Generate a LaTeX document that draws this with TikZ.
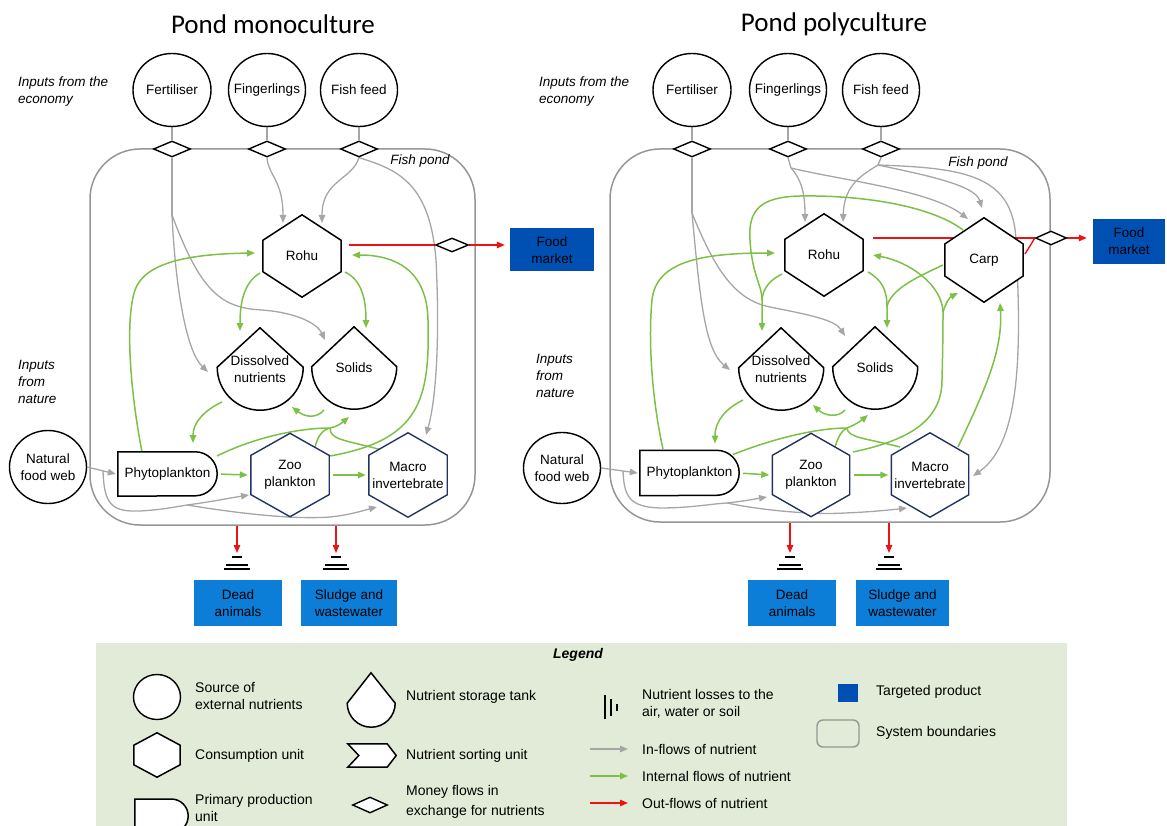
\documentclass[tikz,border=0pt]{standalone}
\usepackage{fontspec}
\setmainfont{Liberation Sans}
\newfontfamily\titlefont{Carlito}
\usetikzlibrary{shapes.geometric,arrows.meta,calc}
\definecolor{grayc}{RGB}{166,166,166}
\definecolor{boundc}{RGB}{150,150,150}
\definecolor{greenc}{RGB}{125,192,70}
\definecolor{redc}{RGB}{235,20,20}
\definecolor{navyc}{RGB}{35,50,100}
\definecolor{darkblue}{RGB}{0,80,180}
\definecolor{midblue}{RGB}{12,126,216}
\definecolor{lgdgreen}{RGB}{226,235,215}
\pgfdeclarelayer{bg}\pgfdeclarelayer{mid}\pgfsetlayers{bg,mid,main}
\newcommand\lbl{\fontsize{13.5}{17}\selectfont}
\newcommand\lgd{\fontsize{14}{17}\selectfont}
\tikzset{
 gline/.style={draw=grayc,line width=1.3pt},
 garr/.style={gline,-{Triangle[width=6.5pt,length=8pt]}},
 grn/.style={draw=greenc,line width=1.5pt},
 grnarr/.style={grn,-{Triangle[width=6.5pt,length=8pt]}},
 redl/.style={draw=redc,line width=1.4pt},
 redarr/.style={redl,-{Triangle[width=6.5pt,length=8pt]}},
 bound/.style={draw=boundc,line width=1.5pt,rounded corners=50pt,inner sep=0pt},
 src/.style={ellipse,draw,line width=1.4pt,fill=white,inner sep=0pt},
 money/.style={diamond,draw,line width=1.4pt,fill=white,inner sep=0pt,minimum width=37pt,minimum height=16pt},
 unit/.style={rectangle,inner sep=0pt,align=center,font=\lbl},
 blk/.style={draw=black,line width=1.5pt,fill=white},
 blu/.style={draw=navyc,line width=1.4pt,fill=white},
 prod/.style={rectangle,inner sep=0pt,align=center,font=\lbl,minimum height=46pt},
 it/.style={font=\lbl\itshape,align=left,inner sep=0pt},
 lt/.style={font=\lgd,align=left,inner sep=0pt,anchor=west},
 gnd/.style={line width=1.8pt,draw=black},
 ttl/.style={font=\titlefont\fontsize{27}{30}\selectfont,inner sep=0pt},
}
\newcommand\hexout[4]{\path[#4] (#1.north) -- ($(#1.north east)!#2!(#1.south east)$) -- ($(#1.north east)!#3!(#1.south east)$) -- (#1.south) -- ($(#1.north west)!#3!(#1.south west)$) -- ($(#1.north west)!#2!(#1.south west)$) -- cycle;}
\newcommand\tankout[3]{\path[#3] ($(#1.south east)+(0,-#2)$) arc[start angle=0,end angle=180,radius=#2] -- (#1.north) -- cycle;}
\newcommand\dout[3]{\path[#3] (#1.north west) -- ($(#1.north east)+(-#2,0)$) arc[start angle=-90,end angle=90,radius=#2] -- (#1.south west) -- cycle;}
\newcommand\gndat[1]{\draw[gnd] ($(#1)+(-5,0)$) -- ($(#1)+(5,0)$) ($(#1)+(-11,8)$) -- ($(#1)+(11,8)$) ($(#1)+(-13,12)$) -- ($(#1)+(13,12)$);}
\begin{document}
\begin{tikzpicture}[x=1pt,y=-1pt]
\useasboundingbox (0,0) rectangle (1167,826);
% ---------- titles and side labels
\node[ttl] (titleL) at (273,24) {Pond monoculture};
\node[ttl] (titleR) at (834,24) {Pond polyculture};
\node[it,anchor=west] (ecoL) at (18,92) {Inputs from the\\economy};
\node[it,anchor=west] (ecoR) at (539,92) {Inputs from the\\economy};
\node[it,anchor=west] (natL) at (18,382) {Inputs\\from\\nature};
\node[it,anchor=west] (natR) at (536,376) {Inputs\\from\\nature};
\node[it] (fpL) at (420,161) {Fish pond};
\node[it] (fpR) at (978,163) {Fish pond};
% ---------- left nodes
\node[src,minimum width=78pt,minimum height=73pt,label={[font=\lbl]center:Fertiliser}] (fertL) at (172,90) {};
\node[src,minimum width=77pt,minimum height=73pt,label={[font=\lbl]center:Fingerlings}] (fingL) at (267,90) {};
\node[src,minimum width=77pt,minimum height=73pt,label={[font=\lbl]center:Fish feed}] (feedL) at (359,90) {};
\node[money] (dmFertL) at (172,149) {};
\node[money] (dmFingL) at (267,149) {};
\node[money] (dmFeedL) at (359,149) {};
\node[unit,minimum width=78pt,minimum height=82pt] (rohuL) at (302,256) {Rohu};
\node[unit,minimum width=86pt,minimum height=82pt] (dissL) at (260,369) {Dissolved\\nutrients};
\node[unit,minimum width=85pt,minimum height=82pt] (solL) at (354,368) {Solids};
\node[unit,minimum width=99pt,minimum height=44pt] (phyL) at (167.5,474) {Phytoplankton};
\node[unit,minimum width=78pt,minimum height=83pt] (zooL) at (290,475) {Zoo\\plankton};
\node[unit,minimum width=78pt,minimum height=84pt] (macL) at (408,475) {Macro\\invertebrate};
\node[src,minimum width=77pt,minimum height=73pt,label={[font=\lbl,align=center]center:Natural\\food web}] (nfwL) at (48,467) {};
\node[money,minimum width=33pt,minimum height=14pt] (dmOutL) at (452,245) {};
\node[prod,fill=darkblue,minimum width=84pt,minimum height=43pt] (marketL) at (552,250) {Food\\market};
\node[prod,fill=midblue,minimum width=88pt] (deadL) at (238,603) {Dead\\animals};
\node[prod,fill=midblue,minimum width=96pt] (sludgeL) at (349,603) {Sludge and\\wastewater};
% ---------- right nodes
\node[src,minimum width=78pt,minimum height=73pt,label={[font=\lbl]center:Fertiliser}] (fertR) at (692,90) {};
\node[src,minimum width=77pt,minimum height=73pt,label={[font=\lbl]center:Fingerlings}] (fingR) at (788,90) {};
\node[src,minimum width=77pt,minimum height=73pt,label={[font=\lbl]center:Fish feed}] (feedR) at (881,90) {};
\node[money] (dmFertR) at (692,149) {};
\node[money] (dmFingR) at (788,149) {};
\node[money] (dmFeedR) at (881,149) {};
\node[unit,minimum width=78pt,minimum height=82pt] (rohuR) at (824,255) {Rohu};
\node[unit,minimum width=78pt,minimum height=84pt] (carpR) at (984,260) {Carp};
\node[unit,minimum width=85pt,minimum height=82pt] (dissR) at (781,369) {Dissolved\\nutrients};
\node[unit,minimum width=85pt,minimum height=82pt] (solR) at (875,368) {Solids};
\node[unit,minimum width=99pt,minimum height=45pt] (phyR) at (689.5,473) {Phytoplankton};
\node[unit,minimum width=77pt,minimum height=83pt] (zooR) at (811,475) {Zoo\\plankton};
\node[unit,minimum width=77pt,minimum height=84pt] (macR) at (930,475) {Macro\\invertebrate};
\node[src,minimum width=77pt,minimum height=71pt,label={[font=\lbl,align=center]center:Natural\\food web}] (nfwR) at (562,468) {};
\node[money,minimum width=31pt,minimum height=14pt] (dmOutR) at (1051,238) {};
\node[prod,fill=darkblue,minimum width=72pt,minimum height=45pt] (marketR) at (1129,241.5) {Food\\market};
\node[prod,fill=midblue,minimum width=88pt] (deadR) at (792,603) {Dead\\animals};
\node[prod,fill=midblue,minimum width=93pt] (sludgeR) at (902.5,603) {Sludge and\\wastewater};
% ---------- outlines
\begin{pgfonlayer}{mid}
\hexout{rohuL}{0.31}{0.69}{blk}
\tankout{dissL}{43}{blk}
\tankout{solL}{42.5}{blk}
\dout{phyL}{22}{blk}
\hexout{zooL}{0.265}{0.735}{blu}
\hexout{macL}{0.265}{0.735}{blu}
\hexout{rohuR}{0.31}{0.69}{blk}
\hexout{carpR}{0.31}{0.69}{blk}
\tankout{dissR}{42.5}{blk}
\tankout{solR}{42.5}{blk}
\dout{phyR}{22.5}{blk}
\hexout{zooR}{0.265}{0.735}{blu}
\hexout{macR}{0.265}{0.735}{blu}
\end{pgfonlayer}
% ---------- connectors
\begin{pgfonlayer}{bg}
\node[fill=lgdgreen,minimum width=971pt,minimum height=190pt,inner sep=0pt,anchor=north west] (lgdbox) at (96,643) {};
\node[bound,minimum width=385pt,minimum height=376pt] (pondL) at (282.5,337) {};
\node[bound,minimum width=440pt,minimum height=373pt] (pondR) at (830,335.5) {};
% left grey
\draw[gline] (fertL.south) -- (dmFertL.north);
\draw[gline] (fingL.south) -- (dmFingL.north);
\draw[gline] (feedL.south) -- (dmFeedL.north);
\coordinate (jFertL) at (172,215);
\draw[gline] (dmFertL.south) -- (jFertL);
\draw[garr] (jFertL) .. controls (175,280) and (185,350) .. ($(dissL)+(-52,3)$);
\draw[garr] (jFertL) .. controls (200,290) and (220,308) .. (262,310) .. controls (300,313) and (318,325) .. ($(solL)+(-29,-28)$);
\draw[garr] (dmFingL.south) .. controls (268,175) and (283,180) .. ($(rohuL)+(-19,-33)$);
\draw[garr] (dmFeedL.south) .. controls (352,180) and (322,180) .. ($(rohuL)+(20,-33)$);
\draw[garr] (dmFeedL.south) .. controls (400,170) and (430,185) .. (436,260) .. controls (440,340) and (436,400) .. ($(macL)+(18,-40)$);
\coordinate (jNfwL) at (103,470.5);
\draw[garr] (nfwL.east) -- ($(phyL.west)+(-2,0)$);
\coordinate (jBrL) at (187,505);
\draw[garr] (jNfwL) .. controls (104,505) and (112,512) .. (140,511) .. controls (160,510) and (175,507) .. (jBrL) .. controls (210,502) and (230,498) .. ($(zooL)+(-41,20)$);
\draw[garr] (jBrL) .. controls (230,512) and (290,520) .. (330,517) .. controls (350,515) and (365,510) .. ($(macL)+(-31,32)$);
% left green
\draw[grnarr] ($(phyL)+(-25.5,-22)$) .. controls (130,390) and (125,320) .. (135,290) .. controls (145,262) and (190,254) .. ($(rohuL)+(-47,-3)$);
\draw[grnarr] ($(rohuL)+(-42,17)$) .. controls (245,282) and (240,300) .. ($(dissL)+(-20,-38)$);
\draw[grnarr] ($(rohuL)+(43,16)$) .. controls (362,280) and (366,300) .. ($(solL)+(12,-40)$);
\draw[grnarr] ($(zooL)+(40,-19)$) .. controls (420,440) and (430,400) .. (428,320) .. controls (427,270) and (395,255) .. ($(rohuL)+(50,-1)$);
\draw[grnarr] ($(dissL)+(-38,33)$) .. controls (205,410) and (193,422) .. ($(phyL)+(25.5,-31)$);
\draw[grnarr] ($(solL)+(-30,42)$) .. controls (316,419) and (305,417) .. ($(dissL)+(32,38)$);
\coordinate (jSolL) at (330,428);
\draw[grnarr] ($(phyL)+(49.5,-18)$) .. controls (255,437) and (300,428) .. (jSolL) .. controls (337,427) and (343,422) .. ($(solL)+(-5,49)$);
\draw[grn] ($(zooL)+(25,-28)$) .. controls (318,436) and (322,430) .. (jSolL);
\draw[grn] ($(macL)+(-26,-25)$) .. controls (345,440) and (330,440) .. (jSolL);
\draw[grnarr,shorten <=4pt] (phyL.east) -- ($(zooL.west)+(-3,0)$);
\draw[grnarr,shorten <=4pt] (zooL.east) -- ($(macL.west)+(-3,0)$);
% left red
\draw[redl] ($(rohuL)+(47,-11)$) -- (dmOutL.west);
\draw[redarr,shorten >=5pt] (dmOutL.east) -- (dmOutL.east -| marketL.west);
\coordinate (gL1) at (237,557);
\coordinate (gL2) at (336,557);
\draw[redarr] (pondL.south -| gL1) -- ($(gL1)+(0,-4)$);
\draw[redarr] (pondL.south -| gL2) -- ($(gL2)+(0,-4)$);
% right grey
\draw[gline] (fertR.south) -- (dmFertR.north);
\draw[gline] (fingR.south) -- (dmFingR.north);
\draw[gline] (feedR.south) -- (dmFeedR.north);
\coordinate (jFertR) at (692,213);
\draw[gline] (dmFertR.south) -- (jFertR);
\draw[garr] (jFertR) .. controls (700,300) and (705,350) .. ($(dissR)+(-51,1)$);
\draw[garr] (jFertR) .. controls (715,270) and (735,300) .. (770,307) .. controls (810,315) and (835,320) .. ($(solR)+(-30,-32)$);
\coordinate (jFingR) at (791,168);
\draw[gline] (dmFingR.south) -- (jFingR);
\draw[garr] (jFingR) .. controls (802,180) and (805,195) .. ($(rohuR)+(-19,-33)$);
\draw[garr] (jFingR) .. controls (840,180) and (930,190) .. ($(carpR)+(-16,-41)$);
\coordinate (jFeedR) at (878,165);
\draw[gline] (dmFeedR.south) -- (jFeedR);
\draw[garr] (jFeedR) .. controls (862,175) and (844,185) .. ($(rohuR)+(19,-33)$);
\draw[garr] (jFeedR) .. controls (925,175) and (975,185) .. ($(carpR)+(-2,-52)$);
\draw[garr] (jFeedR) .. controls (965,168) and (1013,175) .. (1016,240) .. controls (1020,330) and (1025,440) .. ($(macR)+(43,1)$);
\coordinate (jNfwR) at (623,471);
\draw[garr] (nfwR.east) -- ($(phyR.west)+(-2,0)$);
\coordinate (jBrR) at (727,503);
\draw[garr] (jNfwR) .. controls (624,497) and (630,507) .. (660,508) .. controls (690,508) and (710,504) .. (jBrR) .. controls (745,501) and (755,499) .. ($(zooR)+(-44,22)$);
\draw[garr] (jBrR) .. controls (760,510) and (810,515) .. (845,513) .. controls (870,512) and (890,510) .. ($(macR)+(-23,33)$);
% right green
\draw[grnarr] ($(phyR)+(-26.5,-24)$) .. controls (652,400) and (648,340) .. (652,300) .. controls (656,262) and (700,253) .. ($(rohuR)+(-49,-2)$);
\coordinate (jDissR) at (762,300);
\draw[grnarr] ($(carpR)+(-21,-30)$) .. controls (930,205) and (860,195) .. (800,196) .. controls (760,197) and (748,210) .. (750,240) .. controls (752,275) and (762,285) .. (jDissR) -- ($(dissR)+(-19,-38)$);
\draw[grn] ($(rohuR)+(-42,19)$) .. controls (770,280) and (763,288) .. (jDissR);
\coordinate (jSolTR) at (887,307);
\draw[grnarr] ($(rohuR)+(44,17)$) .. controls (882,280) and (887,290) .. (jSolTR) -- ($(solR)+(12,-40)$);
\draw[grn] ($(carpR)+(-41,5)$) .. controls (915,278) and (890,290) .. (jSolTR);
\coordinate (jCarpR) at (943,312);
\draw[grnarr] ($(zooR)+(42,-23)$) .. controls (910,440) and (942,420) .. (942,380) .. controls (943,340) and (943,320) .. (jCarpR) .. controls (942,285) and (910,262) .. ($(rohuR)+(49,0)$);
\draw[grnarr] (jCarpR) .. controls (946,302) and (950,297) .. ($(carpR)+(-26,33)$);
\draw[grnarr] ($(macR)+(28,-28)$) .. controls (985,390) and (1003,350) .. ($(carpR)+(16,43)$);
\draw[grnarr] ($(dissR)+(-38,31)$) .. controls (727,408) and (715,420) .. ($(phyR)+(25.5,-29.5)$);
\draw[grnarr] ($(solR)+(-30,42)$) .. controls (838,418) and (825,416) .. ($(dissR)+(32,36)$);
\coordinate (jSolR) at (847,428);
\draw[grnarr] ($(phyR)+(43.5,-18.5)$) .. controls (777,437) and (820,428) .. (jSolR) .. controls (855,425) and (862,420) .. ($(solR)+(-7,47)$);
\draw[grn] ($(zooR)+(24,-28)$) .. controls (838,437) and (842,430) .. (jSolR);
\draw[grn] ($(macR)+(-30,-28)$) .. controls (865,438) and (848,438) .. (jSolR);
\draw[grnarr,shorten <=4pt] (phyR.east) -- ($(zooR.west)+(-3,0)$);
\draw[grnarr,shorten <=4pt] (zooR.east) -- ($(macR.west)+(-3,0)$);
% right red
\draw[redl] ($(rohuR)+(49,-17)$) -- (dmOutR.west);
\draw[redl] ($(carpR)+(41,-6)$) .. controls (1030,246) and (1033,241) .. (dmOutR.west);
\draw[redarr,shorten >=6pt] (dmOutR.east) -- (dmOutR.east -| marketR.west);
\coordinate (gR1) at (790,557);
\coordinate (gR2) at (889,557);
\draw[redarr] (pondR.south -| gR1) -- ($(gR1)+(0,-4)$);
\draw[redarr] (pondR.south -| gR2) -- ($(gR2)+(0,-4)$);
\end{pgfonlayer}
\gndat{gL1}
\gndat{gL2}
\gndat{gR1}
\gndat{gR2}
% ---------- legend
\node[font=\lgd\bfseries\itshape,inner sep=0pt] (lgdT) at (578,655) {Legend};
\node[src,minimum width=47pt,minimum height=45pt] (lgSrc) at (157,697) {};
\node[lt] (lgSrcT) at (195,696) {Source of\\external nutrients};
\node[unit,minimum width=46pt,minimum height=44pt] (lgHex) at (157,755) {};
\hexout{lgHex}{0.28}{0.72}{blk}
\node[lt] (lgHexT) at (195,756) {Consumption unit};
\node[unit,minimum width=53pt,minimum height=34pt,anchor=north] (lgPrim) at (161.5,799) {};
\dout{lgPrim}{17}{blk}
\node[lt] (lgPrimT) at (195,808) {Primary production\\unit};
\node[unit,minimum width=48pt,minimum height=54pt] (lgTank) at (371,700) {};
\tankout{lgTank}{24}{blk}
\node[lt] (lgTankT) at (406,697) {Nutrient storage tank};
\node[unit,minimum width=48pt,minimum height=23pt] (lgSort) at (372,755.5) {};
\path[blk] (lgSort.north west) -- ($(lgSort.north east)+(-9,0)$) -- (lgSort.east) -- ($(lgSort.south east)+(-9,0)$) -- (lgSort.south west) -- ($(lgSort.west)+(11,0)$) -- cycle;
\node[lt] (lgSortT) at (406,756) {Nutrient sorting unit};
\node[money,minimum width=35pt,minimum height=16pt] (lgMoney) at (370,805) {};
\node[lt] (lgMoneyT) at (406,802) {Money flows in\\[3pt]exchange for nutrients};
\coordinate (lgLoss) at (605,707);
\draw[gnd] ($(lgLoss)+(0,-12)$) -- ($(lgLoss)+(0,12)$) ($(lgLoss)+(6,-8)$) -- ($(lgLoss)+(6,9)$) ($(lgLoss)+(12,-3)$) -- ($(lgLoss)+(12,4)$);
\node[lt] (lgLossT) at (642,703.5) {Nutrient losses to the\\air, water or soil};
\coordinate (lgIn1) at (590,749);
\coordinate (lgIn2) at (628,749);
\draw[garr] (lgIn1) -- (lgIn2);
\node[lt] (lgInT) at (642,749) {In-flows of nutrient};
\coordinate (lgGr1) at (590,776);
\coordinate (lgGr2) at (628,776);
\draw[grnarr] (lgGr1) -- (lgGr2);
\node[lt] (lgGrT) at (642,776) {Internal flows of nutrient};
\coordinate (lgRd1) at (590,803);
\coordinate (lgRd2) at (628,803);
\draw[redarr] (lgRd1) -- (lgRd2);
\node[lt] (lgRdT) at (642,803) {Out-flows of nutrient};
\node[fill=darkblue,minimum width=20pt,minimum height=18pt,inner sep=0pt] (lgTarget) at (848,693) {};
\node[lt] (lgTargetT) at (876,692) {Targeted product};
\node[draw=boundc,line width=1.4pt,rounded corners=6pt,minimum width=42pt,minimum height=27pt,inner sep=0pt] (lgSys) at (838,733.5) {};
\node[lt] (lgSysT) at (876,733) {System boundaries};
\end{tikzpicture}
\end{document}
